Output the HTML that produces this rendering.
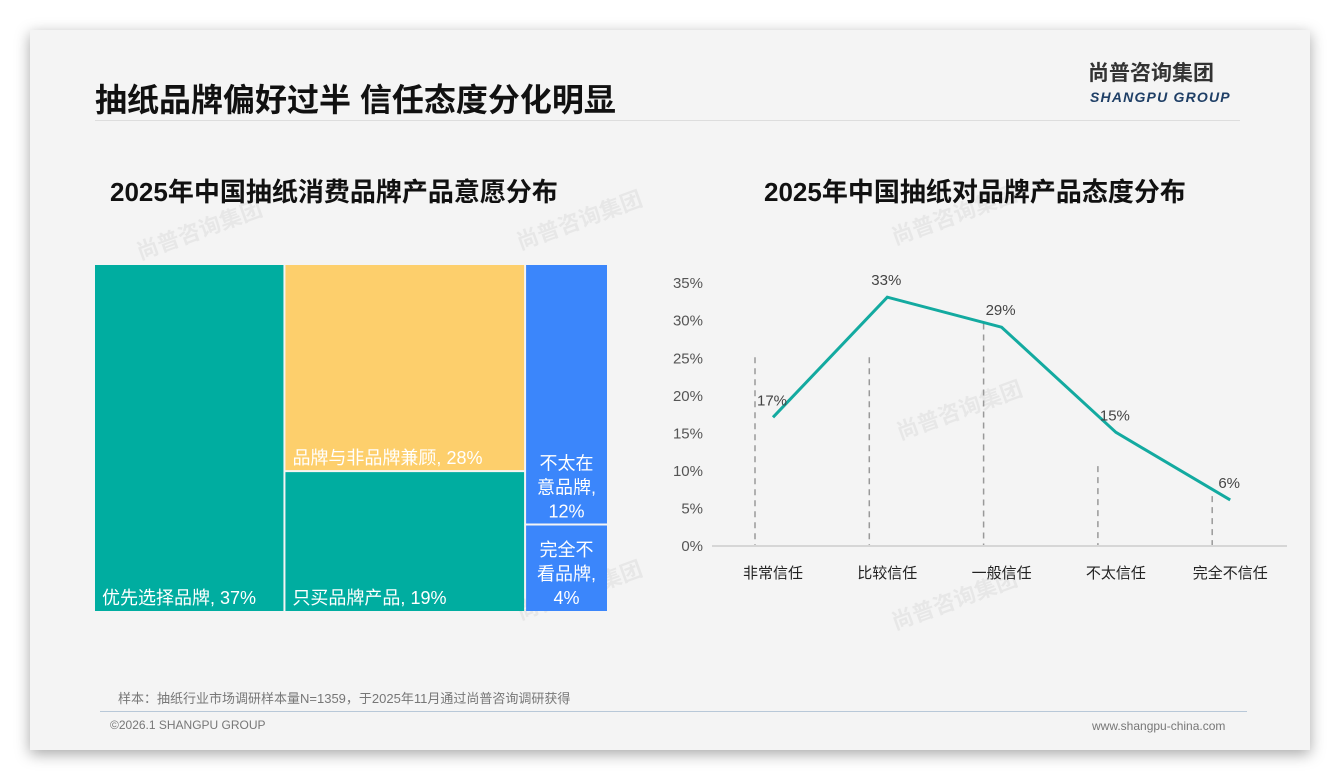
<!DOCTYPE html>
<html><head><meta charset="utf-8">
<style>
body{margin:0;width:1340px;height:780px;background:#fff;font-family:"Liberation Sans","Noto Sans CJK SC",sans-serif;position:relative;overflow:hidden}
#card{position:absolute;left:30px;top:30px;width:1280px;height:720px;background:#f4f4f4;box-shadow:0 4px 14px rgba(0,0,0,.35)}
.abs{position:absolute}
</style></head><body>
<div id="card"></div>
<div class="abs" style="left:95px;top:75px;font-size:32px;font-weight:bold;color:#111;letter-spacing:0px">抽纸品牌偏好过半 信任态度分化明显</div>
<div class="abs" style="left:1088px;top:60px;font-size:21px;line-height:28px;font-weight:bold;color:#333">尚普咨询集团</div>
<div class="abs" style="left:1090px;top:89px;font-size:14px;line-height:16px;font-weight:bold;font-style:italic;color:#1f3f66;letter-spacing:1.2px">SHANGPU GROUP</div>
<div class="abs" style="left:95px;top:120px;width:1145px;height:1px;background:#ddd"></div>
<div class="abs" style="left:110px;top:172px;font-size:26px;font-weight:bold;color:#111">2025年中国抽纸消费品牌产品意愿分布</div>
<div class="abs" style="left:764px;top:172px;font-size:26px;font-weight:bold;color:#111">2025年中国抽纸对品牌产品态度分布</div>
<svg class="abs" style="left:0;top:0" width="1340" height="780" id="svg">
<g font-size="22" font-weight="bold" fill="#000" fill-opacity="0.05" font-family="Liberation Sans,Noto Sans CJK SC,sans-serif">
<text transform="translate(140,260) rotate(-20)">尚普咨询集团</text>
<text transform="translate(520,250) rotate(-20)">尚普咨询集团</text>
<text transform="translate(895,245) rotate(-20)">尚普咨询集团</text>
<text transform="translate(900,440) rotate(-20)">尚普咨询集团</text>
<text transform="translate(520,620) rotate(-20)">尚普咨询集团</text>
<text transform="translate(895,630) rotate(-20)">尚普咨询集团</text>
</g>
<g id="tree"></g><g id="line"></g>
</svg>
<div class="abs" style="left:118px;top:688px;font-size:13px;color:#777">样本：抽纸行业市场调研样本量N=1359，于2025年11月通过尚普咨询调研获得</div>
<div class="abs" style="left:100px;top:711px;width:1147px;height:1px;background:#b8c8d8"></div>
<div class="abs" style="left:110px;top:718px;font-size:12px;color:#777">©2026.1 SHANGPU GROUP</div>
<div class="abs" style="left:1092px;top:719px;font-size:12px;color:#777">www.shangpu-china.com</div>
<script>
const NS='http://www.w3.org/2000/svg';
// treemap data
const tmGroups=[['优先选择品牌'],['品牌与非品牌兼顾','只买品牌产品'],['不太在意品牌','完全不看品牌']];
const tmValues=[[37],[28,19],[12,4]];
const tmColors=[['#00ada0'],['#fdcf6c','#00ada0'],['#3b86fb','#3b86fb']];
// line data
const lineCats=['非常信任','比较信任','一般信任','不太信任','完全不信任'];
const lineVals=[17,33,29,15,6];
const dashTops=[25,25,29.5,10.5,6.5];
const yTicks=[0,5,10,15,20,25,30,35];

function el(tag,attrs,parent){const e=document.createElementNS(NS,tag);for(const k in attrs)e.setAttribute(k,attrs[k]);parent.appendChild(e);return e;}
// treemap
const tree=document.getElementById('tree');
const TX=95,TY=265,TW=512,TH=346,G=2;
const total=tmValues.flat().reduce((a,b)=>a+b,0);
let cx=TX;
tmValues.forEach((col,i)=>{
  const cs=col.reduce((a,b)=>a+b,0);
  const w=TW*cs/total;
  let cy=TY;
  col.forEach((v,j)=>{
    const h=TH*v/cs;
    const r=el('rect',{x:cx+(i?G/2:0),y:cy+(j?G/2:0),width:w-(i?G/2:0)-(i<tmValues.length-1?G/2:0),height:h-(j?G/2:0)-(j<col.length-1?G/2:0),fill:tmColors[i][j]},tree);
    
    
    const x0=cx+(i?G/2:0);
    if(w>120){
      const t=el('text',{x:x0+7,y:cy+h-7,'font-size':18,fill:'#fff'},tree);
      t.textContent=tmGroups[i][j]+', '+v+'%';
      
      
    }else{
      const name=tmGroups[i][j];
      const lines=[name.slice(0,3),name.slice(3)+',',v+'%'];
      const mid=x0+(w-G/2)/2;
      lines.forEach((s,k)=>{
        const t=el('text',{x:mid,y:cy+h-7-(lines.length-1-k)*24,'font-size':18,fill:'#fff','text-anchor':'middle'},tree);
        t.textContent=s;
        
        
      });
    }
    cy+=h;
  });
  cx+=w;
});
// line chart
const line=document.getElementById('line');
const y0=545,pxPer=7.51,xs0=773,dx=114.3;
const Y=v=>y0-v*pxPer, X=i=>xs0+i*dx;
yTicks.forEach(t=>{const e=el('text',{x:703,y:Y(t)+6,'font-size':15,fill:'#555','text-anchor':'end'},line);e.textContent=t+'%';
});
const ax=el('line',{x1:712,x2:1287,y1:y0+1,y2:y0+1,stroke:'#ccc','stroke-width':1.5},line);

lineCats.forEach((c,i)=>{
  const d=el('line',{x1:X(i)-18,x2:X(i)-18,y1:Y(dashTops[i]),y2:y0,stroke:'#999','stroke-width':1.5,'stroke-dasharray':'6,5'},line);
  
  const t=el('text',{x:X(i),y:578,'font-size':15,fill:'#222','text-anchor':'middle'},line);t.textContent=c;
  
});
const p=el('polyline',{points:lineVals.map((v,i)=>X(i)+','+Y(v)).join(' '),fill:'none',stroke:'#13aaa0','stroke-width':3},line);

lineVals.forEach((v,i)=>{const t=el('text',{x:X(i)-1,y:Y(v)-12,'font-size':15,fill:'#444','text-anchor':'middle'},line);t.textContent=v+'%';
});
</script>
</body></html>
